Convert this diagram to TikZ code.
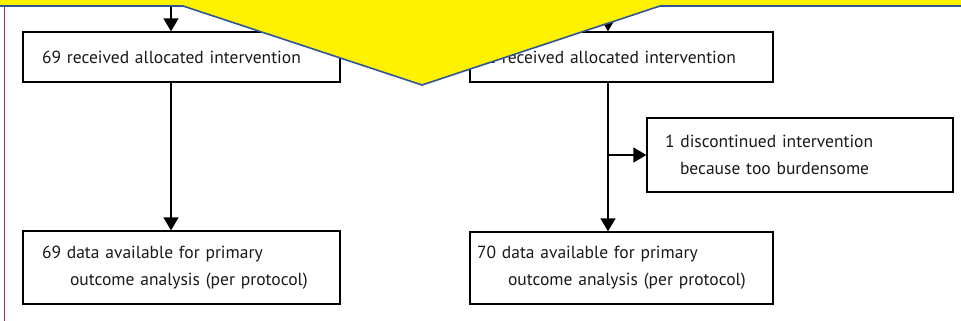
\documentclass[tikz,border=0pt]{standalone}
\usepackage{fontspec}
\setmainfont{PT Sans}
\usetikzlibrary{arrows.meta}

\begin{document}
\begin{tikzpicture}[x=1pt, y=1pt,
  box/.style={draw, line width=1.3pt, align=left, inner ysep=0pt,
    font=\fontsize{17.5}{27}\selectfont, text=black!90},
  flow/.style={line width=1.4pt, -{Triangle[width=15pt, length=13pt]}}]
\useasboundingbox (0,0) rectangle (961,321);
% margin rule
\draw [color={rgb,255:red,160;green,40;blue,100}, line width=1pt] (4,0) -- (4,321);
% left arm
\node [box, minimum height=50pt, text width=279pt, inner xsep=19pt] (recvA) at (181.5,264)
  {69 received allocated intervention};
\node [box, minimum height=73pt, text width=279pt, inner xsep=19pt] (dataA) at (181.5,53.5)
  {69 data available for primary\\\hspace*{28pt}outcome analysis (per protocol)};
% right arm
\node [box, minimum height=50pt, text width=289pt, inner xsep=7pt] (recvB) at (621.5,264)
  {71 received allocated intervention};
\node [box, minimum height=74pt, text width=270pt, inner xsep=18pt] (stopB) at (800,166)
  {1 discontinued intervention\\\hspace*{15pt}because too burdensome};
\node [box, minimum height=72pt, text width=289pt, inner xsep=7pt] (dataB) at (621.5,53)
  {70 data available for primary\\\hspace*{31pt}outcome analysis (per protocol)};
% connectors
\coordinate (inA) at (171,321);
\coordinate (inB) at (608,321);
\draw [flow] (inA) -- (inA |- recvA.north);
\draw [flow] (recvA.south -| inA) -- (inA |- dataA.north);
\draw [flow] (inB) -- (inB |- recvB.north);
\draw [flow] (recvB.south -| inB) -- (inB |- dataB.north);
\draw [flow] (inB |- stopB.west) -- (stopB.west);
% yellow callout over the top
\fill [yellow] (0,321) -- (961,321) -- (961,315) -- (660,315)
               -- (422,236) -- (183,315) -- (0,315) -- cycle;
\draw [color={rgb,255:red,47;green,85;blue,151}, line width=1.6pt]
  (0,315) -- (183,315) -- (422,236) -- (660,315) -- (961,315);
\end{tikzpicture}
\end{document}
